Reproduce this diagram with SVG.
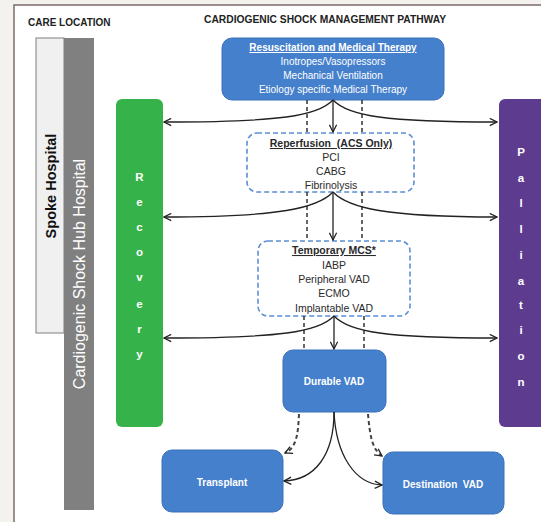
<svg xmlns="http://www.w3.org/2000/svg" width="541" height="522" viewBox="0 0 541 522">
<style>
text{font-family:"Liberation Sans",Arial,sans-serif}
.hdr{font-size:10px;font-weight:bold;fill:#222}
.wt{fill:#fff;font-size:10px;text-anchor:middle}
.bt{fill:#2a2a2a;font-size:10.5px;text-anchor:middle}
.u{text-decoration:underline;font-weight:bold}
.blue{fill:#4580cc;stroke:#3b70b8;stroke-width:1}
.dbox{fill:#fff;stroke:#5b8fd3;stroke-width:1.6;stroke-dasharray:5,3}
.lt{fill:#fff;font-size:11.5px;font-weight:bold;text-anchor:middle}
.con{fill:none;stroke:#222;stroke-width:1.3}
.dash{fill:none;stroke:#333;stroke-width:1.5;stroke-dasharray:4,3}
.dash2{fill:none;stroke:#444;stroke-width:2;stroke-dasharray:4,3}
</style>
<defs>
<marker id="ah" viewBox="0 0 10 10" refX="9" refY="5" markerWidth="9" markerHeight="9" markerUnits="userSpaceOnUse" orient="auto">
<path d="M1,1 L9,5 L1,9" fill="none" stroke="#222" stroke-width="1.4"/>
</marker>
</defs>
<rect width="541" height="522" fill="#f4f2ef"/>
<rect x="14" y="5" width="540" height="530" fill="#fff" stroke="#7b6b6b" stroke-width="1.5"/>
<text class="hdr" x="28" y="26">CARE LOCATION</text>
<text class="hdr" x="204" y="23" textLength="242" lengthAdjust="spacingAndGlyphs">CARDIOGENIC SHOCK MANAGEMENT PATHWAY</text>

<g id="spoke">
<rect x="36" y="38" width="28" height="295" fill="#f0f0f0" stroke="#7f7f7f" stroke-width="1"/>
<text transform="translate(56,186) rotate(-90)" text-anchor="middle" font-size="14.5" font-weight="bold" fill="#111">Spoke Hospital</text>
</g>
<g id="hub">
<rect x="64" y="38" width="30" height="472" fill="#808080"/>
<text transform="translate(85,274) rotate(-90)" text-anchor="middle" font-size="16" fill="#fff">Cardiogenic Shock Hub Hospital</text>
</g>
<g id="recovery">
<rect x="116" y="99" width="47" height="328" rx="6" fill="#36b24a"/>
<text class="lt" x="139.5" y="181">R</text>
<text class="lt" x="139.5" y="206">e</text>
<text class="lt" x="139.5" y="231">c</text>
<text class="lt" x="139.5" y="256">o</text>
<text class="lt" x="139.5" y="281">v</text>
<text class="lt" x="139.5" y="308">e</text>
<text class="lt" x="139.5" y="333">r</text>
<text class="lt" x="139.5" y="358">y</text>
</g>
<g id="palliation">
<rect x="499" y="99" width="60" height="328" rx="6" fill="#5d3c8f"/>
<text class="lt" x="521" y="156">P</text>
<text class="lt" x="521" y="182">a</text>
<text class="lt" x="521" y="207">l</text>
<text class="lt" x="521" y="233">l</text>
<text class="lt" x="521" y="259">i</text>
<text class="lt" x="521" y="285">a</text>
<text class="lt" x="521" y="309">t</text>
<text class="lt" x="521" y="334">i</text>
<text class="lt" x="521" y="360">o</text>
<text class="lt" x="521" y="386">n</text>
</g>
<g id="resuscitation">
<rect class="blue" x="222" y="38" width="222" height="62" rx="10"/>
<text class="wt u" x="333" y="51">Resuscitation and Medical Therapy</text>
<text class="wt" x="333" y="65">Inotropes/Vasopressors</text>
<text class="wt" x="333" y="79">Mechanical Ventilation</text>
<text class="wt" x="333" y="93">Etiology specific Medical Therapy</text>
</g>
<g id="reperfusion">
<rect class="dbox" x="247" y="133" width="167" height="59" rx="10"/>
<text class="bt u" x="331" y="147" style="white-space:pre">Reperfusion  (ACS Only)</text>
<text class="bt" x="331" y="161">PCI</text>
<text class="bt" x="331" y="175">CABG</text>
<text class="bt" x="331" y="189">Fibrinolysis</text>
</g>
<g id="mcs">
<rect class="dbox" x="258" y="241" width="152" height="75" rx="10"/>
<text class="bt u" x="334" y="254">Temporary MCS*</text>
<text class="bt" x="334" y="269">IABP</text>
<text class="bt" x="334" y="283">Peripheral VAD</text>
<text class="bt" x="334" y="297">ECMO</text>
<text class="bt" x="334" y="312">Implantable VAD</text>
</g>
<g id="durable">
<rect class="blue" x="283" y="350" width="103" height="62" rx="10"/>
<text class="wt" x="334" y="385" font-weight="bold">Durable VAD</text>
</g>
<g id="transplant">
<rect class="blue" x="162" y="450" width="121" height="62" rx="10"/>
<text class="wt" x="222" y="486" font-weight="bold">Transplant</text>
</g>
<g id="destination">
<rect class="blue" x="383" y="452" width="121" height="62" rx="10"/>
<text class="wt" x="443" y="488" font-weight="bold" style="white-space:pre">Destination  VAD</text>
</g>

<g id="connectors">
<path class="dash" d="M307,100 V133 M362,100 V133 M307,192 V241 M362,192 V241 M304,316 V350 M364,316 V350"/>
<path class="con" d="M333,100 V132" marker-end="url(#ah)"/>
<path class="con" d="M333,100 C318,116 280,122 164,122" marker-end="url(#ah)"/>
<path class="con" d="M333,100 C348,116 386,122 497,122" marker-end="url(#ah)"/>
<path class="con" d="M333,192 V240" marker-end="url(#ah)"/>
<path class="con" d="M333,192 C318,208 280,217 164,217" marker-end="url(#ah)"/>
<path class="con" d="M333,192 C348,208 386,217 497,217" marker-end="url(#ah)"/>
<path class="con" d="M334,316 V349" marker-end="url(#ah)"/>
<path class="con" d="M334,316 C319,332 280,338 164,338" marker-end="url(#ah)"/>
<path class="con" d="M334,316 C349,332 386,338 497,338" marker-end="url(#ah)"/>
<path class="con" d="M334,412 C334,455 315,480 284,481" marker-end="url(#ah)"/>
<path class="con" d="M334,412 C336,455 355,484 382,485" marker-end="url(#ah)"/>
<path class="dash2" d="M299,414 C298,436 296,448 285,453" marker-end="url(#ah)"/>
<path class="dash2" d="M368,414 C370,436 372,449 382,456" marker-end="url(#ah)"/>
</g>
</svg>
